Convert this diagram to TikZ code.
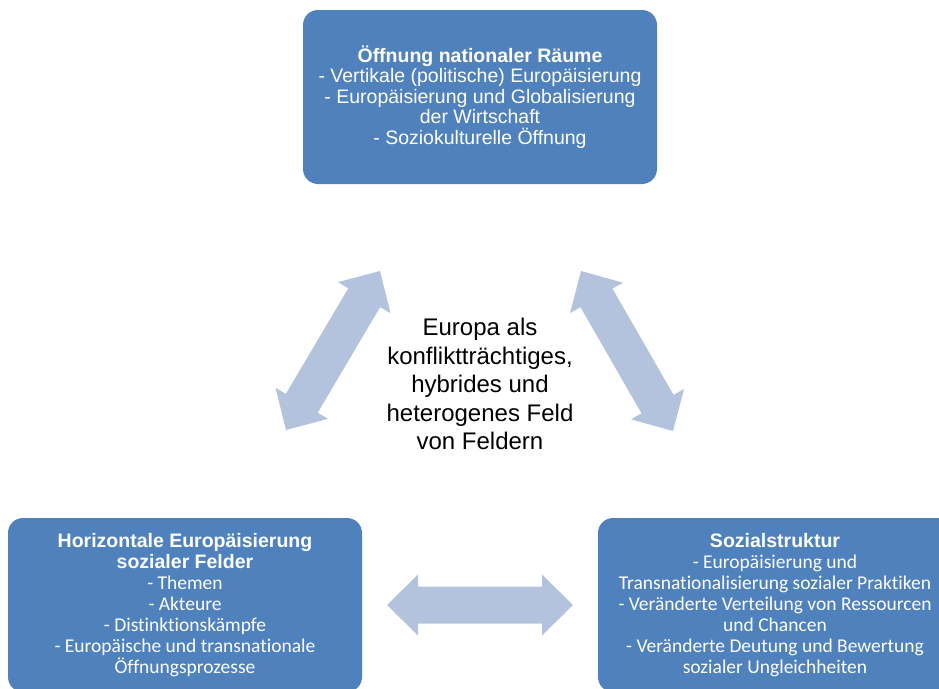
\documentclass[tikz,border=0pt]{standalone}
\usepackage{fontspec}
\setmainfont{Liberation Sans}
\newfontfamily\calibri[Ligatures=NoCommon]{Carlito}
\usetikzlibrary{calc}
\definecolor{boxblue}{RGB}{79,129,189}
\definecolor{arrowblue}{RGB}{179,195,221}

\newcommand{\fieldtitle}[1]{\textrm{\textbf{#1}}}

% wide double arrow between two tip coordinates
\newcommand{\blockarrow}[2]{%
    \path ($(#1)!31pt!(#2)$) coordinate (#1head) ($(#2)!31pt!(#1)$) coordinate (#2head);
    \fill[arrowblue] (#1) -- ($(#1head)!30.5pt!90:(#2)$) -- ($(#1head)!18.5pt!90:(#2)$)
        -- ($(#2head)!18.5pt!-90:(#1)$) -- ($(#2head)!30.5pt!-90:(#1)$) -- (#2)
        -- ($(#2head)!30.5pt!90:(#1)$) -- ($(#2head)!18.5pt!90:(#1)$)
        -- ($(#1head)!18.5pt!-90:(#2)$) -- ($(#1head)!30.5pt!-90:(#2)$) -- cycle;
}

\begin{document}
\begin{tikzpicture}[x=1pt,y=-1pt]
    \tikzstyle{every node}=[align=center, inner sep=0pt]
    \tikzset{
        box/.style={fill=boxblue, text=white, rounded corners=15pt, minimum width=354pt, minimum height=174pt},
        lowbox/.style={box, font=\calibri\fontsize{19.5}{21}\selectfont}
        }
    \clip (0,0) rectangle (939,688);

    %top field
    \node (raeume) [box, font=\fontsize{19.5}{20.5}\selectfont] at (480,97) {\textbf{Öffnung nationaler Räume}\\
        - Vertikale (politische) Europäisierung\\ - Europäisierung und Globalisierung\\
        der Wirtschaft\\ - Soziokulturelle Öffnung};

    %horizontal europeanisation
    \node (felder) [lowbox] at (185,605) {\fieldtitle{Horizontale Europäisierung}\\ \fieldtitle{sozialer Felder}\\
        - Themen\\ - Akteure\\ - Distinktionskämpfe\\ - Europäische und transnationale\\ Öffnungsprozesse};

    %social structure
    \node (struktur) [lowbox] at (775,605) {\fieldtitle{Sozialstruktur}\\
        - Europäisierung und\\ Transnationalisierung sozialer Praktiken\\
        - Veränderte Verteilung von Ressourcen\\ und Chancen\\
        - Veränderte Deutung und Bewertung\\ sozialer Ungleichheiten};

    %centre
    \node (feld) [font=\fontsize{24}{28.5}\selectfont] at (480,384) {Europa als\\ konfliktträchtiges,\\
        hybrides und\\ heterogenes Feld\\ von Feldern};

    %arrow tips
    \coordinate (l1) at (286,430);
    \coordinate (l2) at (380,271);
    \coordinate (r1) at (581,271);
    \coordinate (r2) at (673,431);
    \coordinate (b1) at (387,605);
    \coordinate (b2) at (573,605);

    \blockarrow{l1}{l2}
    \blockarrow{r1}{r2}
    \blockarrow{b1}{b2}
\end{tikzpicture}
\end{document}
